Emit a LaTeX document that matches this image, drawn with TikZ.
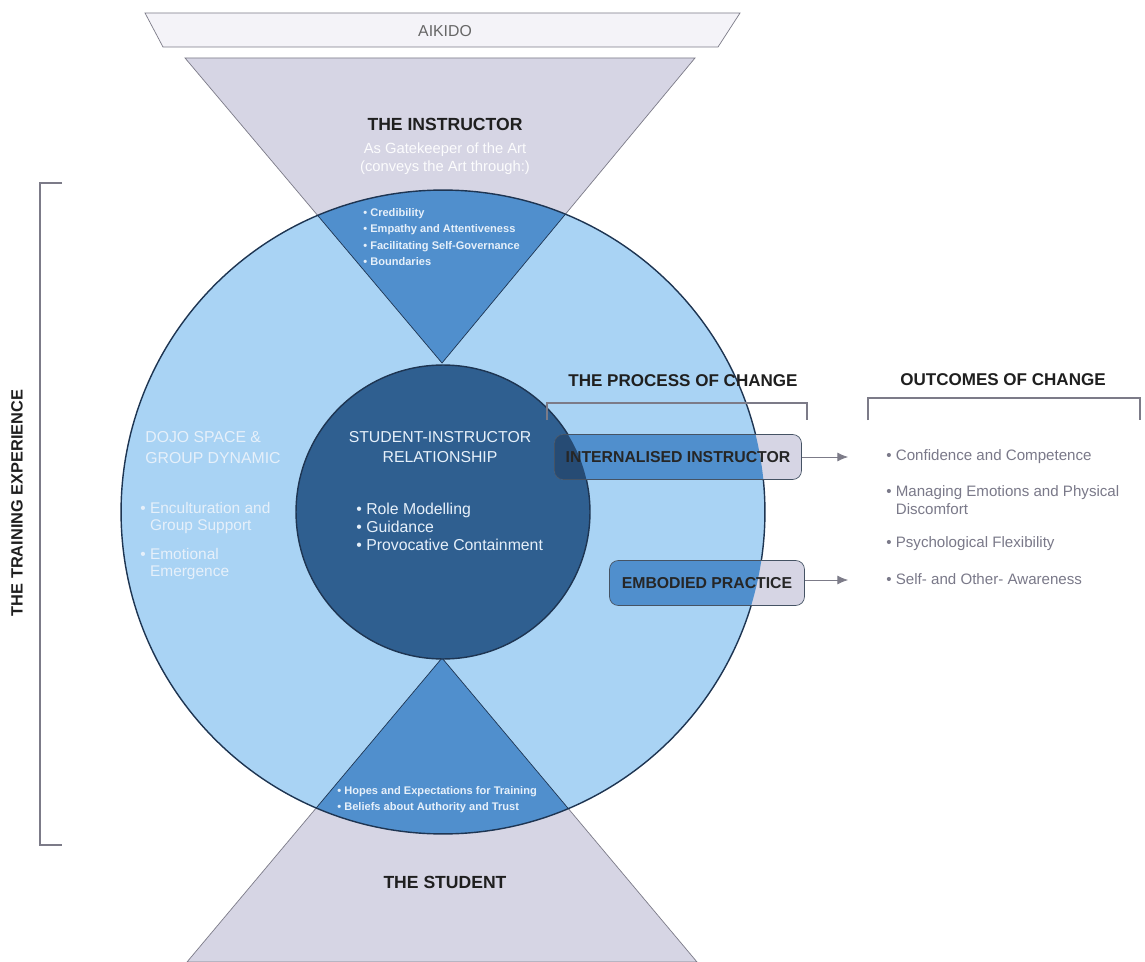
\documentclass[tikz,border=0pt]{standalone}
\usepackage{fontspec}
\setmainfont{Liberation Sans}
\usetikzlibrary{arrows.meta}

\definecolor{lavender}{HTML}{D6D5E4}
\definecolor{paleband}{HTML}{F4F3F8}
\definecolor{skyblue}{HTML}{A9D3F4}
\definecolor{midblue}{HTML}{508FCD}
\definecolor{deepblue}{HTML}{2F5F90}
\definecolor{boxdeep}{HTML}{264B74}
\definecolor{navyline}{HTML}{1E3552}
\definecolor{edgegray}{HTML}{7C7B88}
\definecolor{softwhite}{HTML}{E6F0FA}
\definecolor{textgray}{HTML}{7A7989}

\begin{document}
\begin{tikzpicture}[x=0.02cm, y=-0.02cm,
    every node/.style={inner sep=0pt},
    heading/.style={font=\fontsize{9.7}{11}\selectfont\bfseries, text=black!88},
    whitetext/.style={text=softwhite, align=left},
    outcome/.style={anchor=west, align=left, text=textgray, font=\fontsize{8.6}{9.8}\selectfont},
    changebox/.style={draw=navyline!60!gray, rounded corners=5pt, fill=lavender,
        minimum width=#1, minimum height=0.9cm,
        font=\fontsize{9}{10}\selectfont\bfseries, text=black!85,
        path picture={\fill[midblue] (ctr) circle[radius=6.44cm];
                      \fill[boxdeep] (ctr) circle[radius=2.94cm];}},
    bracket/.style={draw=edgegray, line width=0.8pt},
    pointer/.style={draw=edgegray, -{Latex[length=6pt,width=5pt]}}]

    \fill[white] (0,0) rectangle (1145,962);
    \useasboundingbox (0,0) rectangle (1145,962);
    \coordinate (ctr) at (443,512);

    % band on top and the two triangles
    \draw[edgegray, fill=paleband] (145,13) -- (740,13) -- (718,47) -- (163,47) -- cycle;
    \node[text=black!60, font=\fontsize{9}{10}\selectfont] (aikido) at (445,31) {AIKIDO};
    \draw[edgegray, fill=lavender] (185,58) -- (695,58) -- (442,363) -- cycle;
    \draw[edgegray, fill=lavender] (442,658) -- (697,962) -- (187,962) -- cycle;

    % training circle, with the overlaps in mid blue
    \fill[skyblue] (ctr) circle[radius=6.44cm];
    \begin{scope}
        \clip (ctr) circle[radius=6.44cm];
        \filldraw[midblue, draw=navyline] (185,58) -- (695,58) -- (442,363) -- cycle;
        \filldraw[midblue, draw=navyline] (442,658) -- (697,962) -- (187,962) -- cycle;
    \end{scope}
    \draw[navyline, line width=0.8pt] (ctr) circle[radius=6.44cm];
    \filldraw[deepblue, draw=navyline, line width=0.8pt] (ctr) circle[radius=2.94cm];

    % instructor side
    \node[heading, font=\fontsize{10}{11}\selectfont\bfseries] (instr) at (445,124) {THE INSTRUCTOR};
    \node[text=white!94!lavender, align=center, font=\fontsize{8.4}{10.2}\selectfont] (gate) at (445,159)
        {As Gatekeeper of the Art\\(conveys the Art through:)};
    \node[whitetext, anchor=west, font=\fontsize{6.3}{9.2}\selectfont\bfseries] (instrlist) at (363,237)
        {• Credibility\\• Empathy and Attentiveness\\• Facilitating Self-Governance\\• Boundaries};

    % centre of the circle
    \node[whitetext, align=center, font=\fontsize{9}{11.3}\selectfont] (rel) at (440,447)
        {STUDENT-INSTRUCTOR\\RELATIONSHIP};
    \node[whitetext, anchor=west, font=\fontsize{9}{10.2}\selectfont] (rellist) at (356,527)
        {• Role Modelling\\• Guidance\\• Provocative Containment};

    % dojo side
    \node[whitetext, anchor=west, font=\fontsize{9}{12}\selectfont] (dojo) at (145,448)
        {DOJO SPACE \&\\GROUP DYNAMIC};
    \node[whitetext, anchor=west, font=\fontsize{8.8}{9.8}\selectfont] (dojolist1) at (140,518)
        {• Enculturation and\\\phantom{• }Group Support};
    \node[whitetext, anchor=west, font=\fontsize{8.8}{9.8}\selectfont] (dojolist2) at (140,564)
        {• Emotional\\\phantom{• }Emergence};

    % student side
    \node[whitetext, anchor=west, font=\fontsize{6.3}{9}\selectfont\bfseries] (studlist) at (337,800)
        {• Hopes and Expectations for Training\\• Beliefs about Authority and Trust};
    \node[heading, font=\fontsize{10}{11}\selectfont\bfseries] (student) at (445,882) {THE STUDENT};

    % process of change
    \node[heading] (process) at (683,381) {THE PROCESS OF CHANGE};
    \draw[bracket] (547,420) -- (547,403) -- (807,403) -- (807,420);
    \node[changebox=4.94cm] (intbox) at (678,457) {INTERNALISED INSTRUCTOR};
    \node[changebox=3.9cm] (embbox) at (707,583) {EMBODIED PRACTICE};
    \coordinate (arr1) at (848,457);
    \coordinate (arr2) at (848,580);
    \draw[pointer] (intbox.east) -- (arr1);
    \draw[pointer] (embbox.east |- arr2) -- (arr2);

    % outcomes of change
    \node[heading] (outcomes) at (1003,380) {OUTCOMES OF CHANGE};
    \draw[bracket] (868,420) -- (868,398) -- (1140,398) -- (1140,420);
    \node[outcome] (out1) at (886,457) {• Confidence and Competence};
    \node[outcome] (out2) at (886,500) {• Managing Emotions and Physical\\\phantom{• }Discomfort};
    \node[outcome] (out3) at (886,544) {• Psychological Flexibility};
    \node[outcome] (out4) at (886,579) {• Self- and Other- Awareness};

    % training experience
    \draw[bracket] (62,183) -- (40,183) -- (40,845) -- (62,845);
    \node[heading, font=\fontsize{9.3}{11}\selectfont\bfseries, rotate=90] (training) at (17,503) {THE TRAINING EXPERIENCE};
\end{tikzpicture}
\end{document}
